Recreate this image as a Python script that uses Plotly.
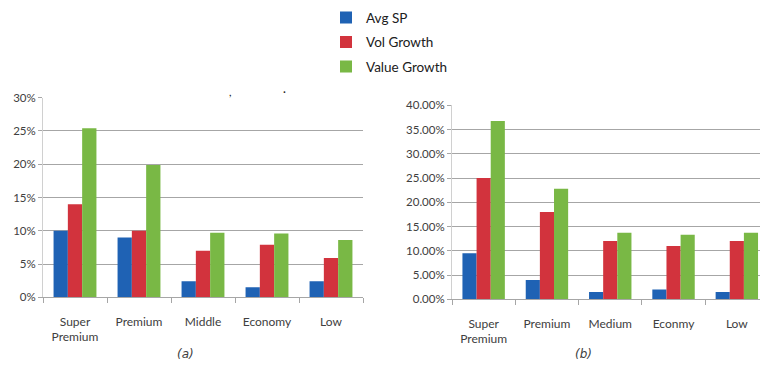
import plotly.graph_objects as go

# Segment labels for each panel
cats_a = ["Super<br>Premium", "Premium", "Middle", "Economy", "Low"]
cats_b = ["Super<br>Premium", "Premium", "Medium", "Econmy", "Low"]

series_names = ["Avg SP", "Vol Growth", "Value Growth"]
series_colors = ["#1f62b4", "#d2333d", "#79b845"]

# Panel (a) values (fractions)
avg_sp_a = [0.100, 0.090, 0.024, 0.015, 0.024]
vol_growth_a = [0.140, 0.100, 0.070, 0.079, 0.059]
value_growth_a = [0.254, 0.199, 0.097, 0.096, 0.086]

# Panel (b) values (fractions)
avg_sp_b = [0.095, 0.040, 0.015, 0.020, 0.015]
vol_growth_b = [0.250, 0.180, 0.120, 0.110, 0.120]
value_growth_b = [0.368, 0.228, 0.137, 0.133, 0.137]

W, H = 760, 367
font_family = "Lato, 'Open Sans', sans-serif"
text_color = "#404040"
grid_color = "#a6a6a6"

fig = go.Figure()

for i, (name, color, ya, yb) in enumerate(zip(
        series_names, series_colors,
        [avg_sp_a, vol_growth_a, value_growth_a],
        [avg_sp_b, vol_growth_b, value_growth_b])):
    fig.add_trace(go.Bar(x=cats_a, y=ya, name=name, marker_color=color,
                         marker_line_width=0, legendgroup=name,
                         xaxis="x", yaxis="y"))
    fig.add_trace(go.Bar(x=cats_b, y=yb, name=name, marker_color=color,
                         marker_line_width=0, legendgroup=name,
                         showlegend=False, xaxis="x2", yaxis="y2"))

common_x = dict(
    type="category", tickson="boundaries", ticks="outside", ticklen=5,
    tickcolor=grid_color, showline=True, linecolor=grid_color, linewidth=1,
    showgrid=False, tickfont=dict(size=12, color=text_color, family=font_family),
    ticklabelstandoff=13, fixedrange=True,
)
common_y = dict(
    showgrid=True, gridcolor=grid_color, gridwidth=1, zeroline=False,
    showline=True, linecolor="#d0d0d0", linewidth=1,
    ticks="outside", ticklen=4, tickcolor=grid_color, dtick=0.05,
    tickfont=dict(size=11.5, color=text_color, family=font_family),
    fixedrange=True,
)

fig.update_layout(
    width=W, height=H,
    margin=dict(l=0, r=0, t=0, b=0),
    paper_bgcolor="white", plot_bgcolor="white",
    barmode="group", bargap=0.33, bargroupgap=0,
    font=dict(family=font_family, color=text_color),
    xaxis=dict(common_x, domain=[43 / W, 363 / W], range=[-0.5, 4.5], anchor="y"),
    yaxis=dict(common_y, domain=[66 / H, 273 / H], range=[0, 0.30],
               tickformat=".0%", anchor="x"),
    xaxis2=dict(common_x, domain=[452 / W, 1.0], range=[-0.5, 4.366], anchor="y2"),
    yaxis2=dict(common_y, domain=[64 / H, 265 / H], range=[0, 0.40],
                tickformat=".2%", anchor="x2"),
    legend=dict(
        x=326 / W, y=1 + 5 / H, xanchor="left", yanchor="top",
        orientation="v", tracegroupgap=4,
        font=dict(size=13.5, color="#202020", family=font_family),
        bgcolor="rgba(0,0,0,0)", itemwidth=30,
    ),
    showlegend=True,
)

# Panel captions and small stray marks
caption_font = dict(size=12, color=text_color, family="DejaVu Sans")
fig.add_annotation(x=185 / W, y=1 - 360 / H, xref="paper", yref="paper",
                   xanchor="center", yanchor="middle",
                   text="<i>(a)</i>", showarrow=False, font=caption_font)
fig.add_annotation(x=583 / W, y=1 - 360 / H, xref="paper", yref="paper",
                   xanchor="center", yanchor="middle",
                   text="<i>(b)</i>", showarrow=False, font=caption_font)
fig.add_annotation(x=230 / W, y=1 - 88 / H, xref="paper", yref="paper",
                   xanchor="center", yanchor="middle",
                   text=",", showarrow=False, font=dict(size=11, color="#202020"))
fig.add_annotation(x=284 / W, y=1 - 88 / H, xref="paper", yref="paper",
                   xanchor="center", yanchor="middle",
                   text="·", showarrow=False, font=dict(size=11, color="#202020"))

fig.write_html("out.html")
